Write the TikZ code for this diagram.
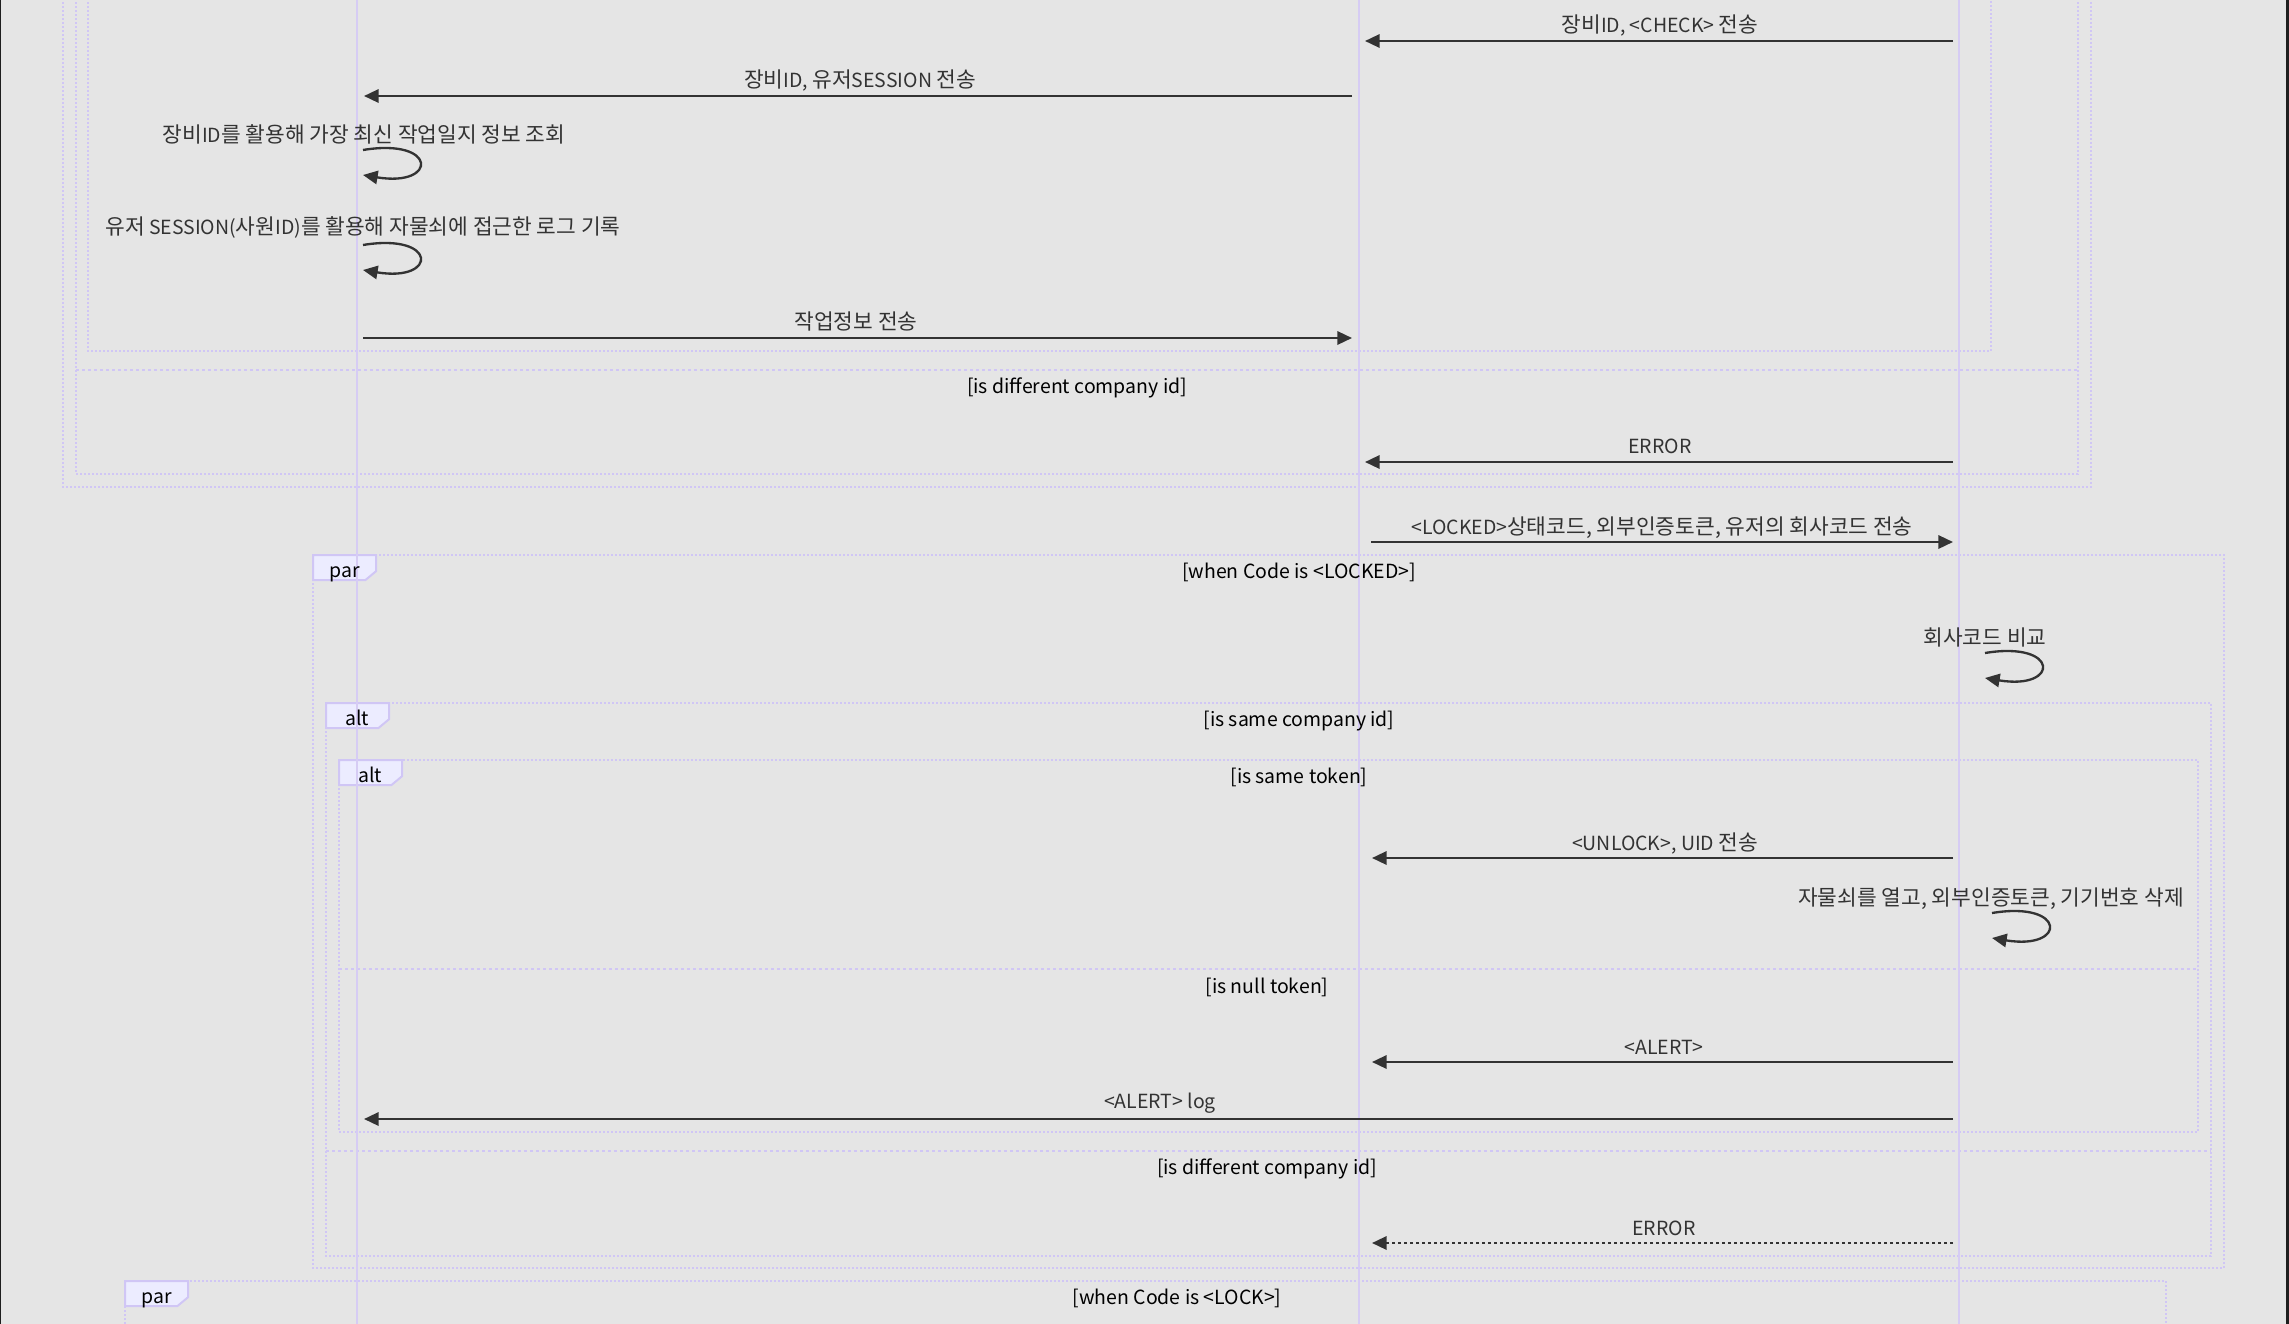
\documentclass[tikz,border=0pt]{standalone}
\usepackage{fontspec}
\setmainfont{Noto Sans CJK KR}
\newfontfamily\krfont{Noto Sans CJK KR}[Scale=1.10]
\newcommand\K[1]{{\krfont #1}}
\usetikzlibrary{arrows.meta}

\definecolor{bgGray}{RGB}{229,229,229}
\definecolor{edgeDark}{RGB}{30,30,30}
\definecolor{lifeLine}{RGB}{214,204,244}
\definecolor{loopLine}{RGB}{208,198,245}
\definecolor{lblFill}{RGB}{236,236,255}
\definecolor{msgInk}{RGB}{51,51,51}

\tikzset{every picture/.style={line width=0.75pt}}
\tikzset{
  lifeln/.style={draw=lifeLine, line width=1.5pt},
  frameln/.style={draw=loopLine, line width=1.6pt, dash pattern=on 1.5pt off 1.5pt},
  sectln/.style={draw=loopLine, line width=1.6pt, dash pattern=on 2.25pt off 2.25pt},
  lblbox/.style={draw=loopLine, fill=lblFill, line width=1.5pt},
  msg/.style={draw=msgInk, line width=1.75pt, -{Triangle[length=11pt,width=10pt]}},
  msgdash/.style={msg, dash pattern=on 2.25pt off 2.25pt},
  msgtxt/.style={font=\fontsize{14.6pt}{17pt}\selectfont, text=msgInk, inner sep=0pt, text height=12.8pt, text depth=1.8pt},
  condtxt/.style={font=\fontsize{14.6pt}{17pt}\selectfont, text=black, inner sep=0pt, text height=12.8pt, text depth=1.8pt},
}

\begin{document}
\begin{tikzpicture}[x=0.75pt,y=0.75pt,yscale=-1,xscale=1]
	\useasboundingbox (0,0) rectangle (2289,1324);
	\clip (0,0) rectangle (2289,1324);
	\fill [bgGray] (0,0) rectangle (2289,1324);
	\draw [edgeDark, line width=1pt] (0.6,0) -- (0.6,1324);
	\draw [edgeDark, line width=2.25pt] (2287.5,0) -- (2287.5,1324);

	%Frames (upper part, tops cut off)
	\draw [frameln] (63,-10) -- (63,487) -- (2091,487) -- (2091,-10);
	\draw [frameln] (76,-10) -- (76,474) -- (2078,474) -- (2078,-10);
	\draw [sectln] (76,370) -- (2078,370);
	\draw [frameln] (88,-10) -- (88,351) -- (1991,351) -- (1991,-10);

	%par when Code is <LOCKED>
	\draw [frameln] (313,555) rectangle (2224,1268);
	\draw [lblbox] (313,555) -- ++(63,0) -- ++(0,16.25) -- ++(-10.5,8.75) -- ++(-52.5,0) -- cycle;
	%alt is same company id
	\draw [frameln] (326,703) rectangle (2211,1256);
	\draw [sectln] (326,1151) -- (2211,1151);
	\draw [lblbox] (326,703) -- ++(63,0) -- ++(0,16.25) -- ++(-10.5,8.75) -- ++(-52.5,0) -- cycle;
	%alt is same token
	\draw [frameln] (339,760) rectangle (2198,1132);
	\draw [sectln] (339,969) -- (2198,969);
	\draw [lblbox] (339,760) -- ++(63,0) -- ++(0,16.25) -- ++(-10.5,8.75) -- ++(-52.5,0) -- cycle;
	%par when Code is <LOCK>
	\draw [frameln] (125,1340) -- (125,1281) -- (2166,1281) -- (2166,1340);
	\draw [lblbox] (125,1281) -- ++(63,0) -- ++(0,16.25) -- ++(-10.5,8.75) -- ++(-52.5,0) -- cycle;

	%Lifelines
	\coordinate (appTop) at (357,0);  \coordinate (appBot) at (357,1324);
	\coordinate (srvTop) at (1359,0); \coordinate (srvBot) at (1359,1324);
	\coordinate (lckTop) at (1959,0); \coordinate (lckBot) at (1959,1324);
	\draw [lifeln] (appTop) -- (appBot);
	\draw [lifeln] (srvTop) -- (srvBot);
	\draw [lifeln] (lckTop) -- (lckBot);

	% Text Node
	\draw (345,570) node [condtxt] (parA) {par};
	\draw (357,718) node [condtxt] (altA) {alt};
	\draw (370,775) node [condtxt] (altB) {alt};
	\draw (157,1296) node [condtxt] (parB) {par};
	\draw (1077,386) node [condtxt] (condDiffTop) {[is different company id]};
	\draw (1299,571) node [condtxt] (condLocked) {[when Code is <LOCKED>]};
	\draw (1299,719) node [condtxt] (condSame) {[is same company id]};
	\draw (1299,776) node [condtxt] (condToken) {[is same token]};
	\draw (1267,986) node [condtxt] (condNull) {[is null token]};
	\draw (1267,1167) node [condtxt] (condDiff) {[is different company id]};
	\draw (1177,1297) node [condtxt] (condLock) {[when Code is <LOCK>]};

	\draw (1660,25) node [msgtxt] (chkTxt) {\K{장비}ID, <CHECK> \K{전송}};
	\draw (860,80) node [msgtxt] (sessTxt) {\K{장비}ID, \K{유저}SESSION \K{전송}};
	\draw (364,135) node [msgtxt] (logTxt) {\K{장비}ID\K{를 활용해 가장 최신 작업일지 정보 조회}};
	\draw (363,227) node [msgtxt] (accTxt) {\K{유저} SESSION(\K{사원}ID)\K{를 활용해 자물쇠에 접근한 로그 기록}};
	\draw (856,322) node [msgtxt] (jobTxt) {\K{작업정보 전송}};
	\draw (1660,446) node [msgtxt] (errTxtA) {ERROR};
	\draw (1662,527) node [msgtxt] (lockTxt) {<LOCKED>\K{상태코드, 외부인증토큰, 유저의 회사코드 전송}};
	\draw (1985,638) node [msgtxt] (cmpTxt) {\K{회사코드 비교}};
	\draw (1665,843) node [msgtxt] (unlTxt) {<UNLOCK>, UID \K{전송}};
	\draw (1991,898) node [msgtxt] (openTxt) {\K{자물쇠를 열고, 외부인증토큰, 기기번호 삭제}};
	\draw (1664,1047) node [msgtxt] (alertTxt) {<ALERT>};
	\draw (1160,1101) node [msgtxt] (alogTxt) {<ALERT> log};
	\draw (1664,1228) node [msgtxt] (errTxtB) {ERROR};

	%Messages
	\coordinate (chkS) at (1953,41);  \coordinate (chkE) at (1365,41);
	\coordinate (sessS) at (1352,96); \coordinate (sessE) at (364,96);
	\coordinate (logS) at (363,150);  \coordinate (logE) at (363,175);
	\coordinate (accS) at (363,245);  \coordinate (accE) at (363,270);
	\coordinate (jobS) at (363,338);  \coordinate (jobE) at (1352,338);
	\coordinate (errAS) at (1953,462); \coordinate (errAE) at (1365,462);
	\coordinate (lockS) at (1371,542); \coordinate (lockE) at (1953,542);
	\coordinate (cmpS) at (1985,653); \coordinate (cmpE) at (1985,678);
	\coordinate (unlS) at (1953,858); \coordinate (unlE) at (1372,858);
	\coordinate (openS) at (1992,913); \coordinate (openE) at (1992,938);
	\coordinate (alertS) at (1953,1062); \coordinate (alertE) at (1372,1062);
	\coordinate (alogS) at (1953,1119); \coordinate (alogE) at (364,1119);
	\coordinate (errBS) at (1953,1243); \coordinate (errBE) at (1372,1243);

	\draw [msg] (chkS) -- (chkE);
	\draw [msg] (sessS) -- (sessE);
	\draw [msg] (logS) .. controls +(75,-12.5) and +(75,12.5) .. (logE);
	\draw [msg] (accS) .. controls +(75,-12.5) and +(75,12.5) .. (accE);
	\draw [msg] (jobS) -- (jobE);
	\draw [msg] (errAS) -- (errAE);
	\draw [msg] (lockS) -- (lockE);
	\draw [msg] (cmpS) .. controls +(75,-12.5) and +(75,12.5) .. (cmpE);
	\draw [msg] (unlS) -- (unlE);
	\draw [msg] (openS) .. controls +(75,-12.5) and +(75,12.5) .. (openE);
	\draw [msg] (alertS) -- (alertE);
	\draw [msg] (alogS) -- (alogE);
	\draw [msgdash] (errBS) -- (errBE);

\end{tikzpicture}
\end{document}
